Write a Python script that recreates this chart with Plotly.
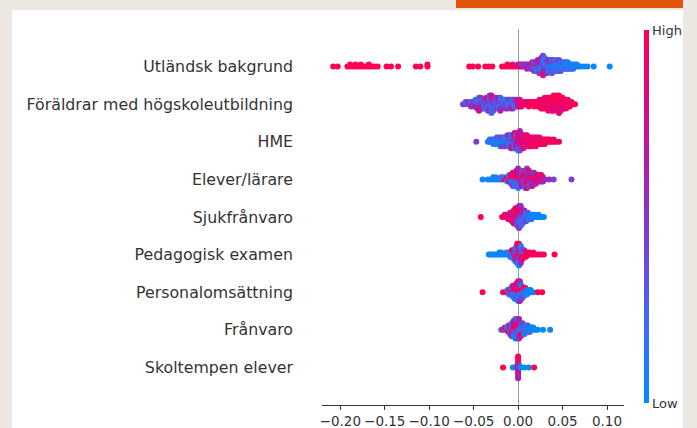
import math
import plotly.graph_objects as go

# Feature names, top row first
features = [
    "Utländsk bakgrund",
    "Föräldrar med högskoleutbildning",
    "HME",
    "Elever/lärare",
    "Sjukfrånvaro",
    "Pedagogisk examen",
    "Personalomsättning",
    "Frånvaro",
    "Skoltempen elever",
]

# SHAP values (in thousandths) grouped into piles of equal value; each character
# of the string is one sample's feature level (0 = low ... 9 = high).
utlandsk = [
    (-208, "9"), (-203, "9"), (-192, "9"), (-189, "99"), (-186, "9"), (-183, "99"),
    (-180, "9"), (-177, "99"), (-174, "9"), (-171, "9"), (-168, "99"), (-165, "9"),
    (-162, "9"), (-158, "9"), (-148, "9"), (-143, "9"), (-135, "9"), (-115, "9"),
    (-110, "9"), (-102, "99"),
    (-55, "9"), (-51, "9"), (-45, "9"), (-37, "9"), (-33, "9"), (-29, "9"),
    (-18, "9"), (-15, "9"), (-12, "99"), (-9, "9"), (-6, "98"), (-3, "9"),
    (0, "97"), (2, "86"), (4, "75"), (6, "64"), (8, "56"), (10, "546"), (12, "45"),
    (14, "365"), (16, "3547"), (18, "45236"), (20, "35142"), (22, "253416"),
    (24, "1436257"), (26, "34251637"), (28, "2413506384"), (30, "31425061"),
    (32, "2041635"), (34, "130425"), (36, "213405"), (38, "1024313"), (40, "201324"),
    (42, "102132"), (44, "21032"), (46, "103214"), (48, "01213"), (50, "2103"),
    (52, "1021"), (54, "0132"), (56, "1021"), (58, "012"), (60, "101"), (62, "012"),
    (64, "10"), (66, "01"), (68, "1"), (70, "0"), (74, "0"), (78, "1"), (85, "0"),
    (103, "0"),
]

foraldrar = [
    (-62, "4"), (-59, "43"), (-56, "35"), (-53, "426"), (-50, "354"), (-48, "4263"),
    (-46, "53426"), (-44, "4352617"), (-42, "354265"), (-40, "43526"), (-38, "24353"),
    (-36, "425316"), (-34, "3425163"), (-32, "24315263"), (-30, "143526372"),
    (-28, "3425163"), (-26, "425316"), (-24, "24135"), (-22, "342516"),
    (-20, "2413526"), (-18, "14325"), (-16, "3241"), (-14, "24315"), (-12, "42135"),
    (-10, "3124"), (-8, "21435"), (-6, "13426"), (-4, "2314"), (-2, "3425"),
    (0, "8967"), (2, "9786"), (4, "897"), (6, "98"), (8, "89"), (10, "98"),
    (12, "979"), (14, "89"), (16, "98"), (18, "989"), (20, "89"), (22, "989"),
    (24, "8998"), (26, "98979"), (28, "89989"), (30, "989879"), (32, "898799"),
    (34, "9897989"), (36, "989789"), (38, "8998798"), (40, "98987989"),
    (42, "899879"), (44, "98978989"), (46, "899879898"), (48, "9898798"),
    (50, "898979"), (52, "98987"), (54, "89899"), (56, "9898"), (58, "898"),
    (60, "98"), (62, "9"), (64, "9"),
]

hme = [
    (-47, "4"), (-34, "1"), (-32, "20"), (-30, "12"), (-28, "021"), (-26, "102"),
    (-24, "2013"), (-22, "1203"), (-20, "02131"), (-18, "21034"), (-16, "13024"),
    (-14, "31204"), (-12, "203145"), (-10, "132406"), (-8, "4213506"),
    (-6, "2531647"), (-4, "46352718"), (-2, "5374628"), (0, "675849361"),
    (2, "5879684736"), (4, "7869584"), (6, "8697958"), (8, "978689"), (10, "897968"),
    (12, "98789"), (14, "89798"), (16, "98979"), (18, "8989"), (20, "98978"),
    (22, "8998"), (24, "9898"), (26, "898"), (28, "989"), (30, "898"), (32, "98"),
    (34, "89"), (36, "98"), (38, "9"), (40, "89"), (43, "9"), (46, "8"),
]

elever_larare = [
    (-40, "0"), (-34, "1"), (-31, "0"), (-28, "10"), (-25, "01"), (-22, "1"),
    (-19, "02"), (-16, "91"), (-14, "8"), (-12, "290"), (-10, "9182"), (-8, "19283"),
    (-6, "3928174"), (-4, "4719382"), (-2, "58391726"), (0, "6948372915"),
    (2, "49583726"), (4, "8574936"), (6, "57384962"), (8, "694857392"),
    (10, "8476959384"), (12, "75968439"), (14, "6958473"), (16, "8967548"),
    (18, "796854"), (20, "68975"), (22, "9786"), (24, "6879"), (26, "9768"),
    (28, "786"), (30, "5"), (35, "5"), (40, "4"), (60, "4"),
]

sjukfranvaro = [
    (-42, "9"), (-18, "9"), (-15, "98"), (-13, "89"), (-11, "978"), (-9, "8976"),
    (-7, "97869"), (-5, "7968798"), (-3, "69785968"), (-1, "576849673"),
    (1, "46573829465"), (3, "3546271835"), (5, "2435162"), (7, "143526"),
    (9, "21304"), (11, "1203"), (13, "021"), (15, "102"), (17, "01"), (19, "10"),
    (21, "0"), (23, "01"), (26, "0"), (29, "0"),
]

pedagogisk = [
    (-33, "0"), (-31, "0"), (-29, "1"), (-27, "0"), (-25, "1"), (-23, "0"),
    (-21, "01"), (-19, "10"), (-17, "0"), (-15, "1"), (-13, "02"), (-11, "10"),
    (-9, "201"), (-7, "9128"), (-5, "29381"), (-3, "8293714"), (-1, "9384726519"),
    (1, "49583627190"), (3, "839472615"), (5, "92837"), (7, "8295"), (9, "989"),
    (11, "98"), (13, "89"), (15, "9"), (17, "98"), (20, "9"), (23, "9"), (26, "9"),
    (29, "8"), (41, "9"),
]

personal = [
    (-40, "9"), (-17, "9"), (-14, "8"), (-12, "91"), (-10, "082"), (-8, "1940"),
    (-6, "290318"), (-4, "3918270"), (-2, "48291736"), (0, "5948372619"),
    (2, "3827190465"), (4, "1927304"), (6, "02193"), (8, "1029"), (10, "201"),
    (12, "01"), (14, "10"), (17, "0"), (22, "9"), (27, "9"),
]

franvaro = [
    (-19, "1"), (-17, "9"), (-15, "19"), (-13, "81"), (-11, "9182"), (-9, "29183"),
    (-7, "8392716"), (-5, "39284716"), (-3, "4938271605"), (-1, "5948372610"),
    (1, "1029384756"), (3, "0213948"), (5, "102394"), (7, "01230"), (9, "1021"),
    (11, "0123"), (13, "102"), (15, "01"), (17, "10"), (20, "0"), (22, "0"),
    (28, "0"), (36, "0"),
]

skoltempen = [
    (-17, "9"), (-6, "0"), (-3, "1"), (-1, "52"), (0, "98796978596"), (1, "64"),
    (3, "0"), (7, "0"), (12, "0"), (18, "9"),
]

rows = [utlandsk, foraldrar, hme, elever_larare, sjukfranvaro,
        pedagogisk, personal, franvaro, skoltempen]

x_ticks = [-0.20, -0.15, -0.10, -0.05, 0.00, 0.05, 0.10]

# SHAP red-blue colormap
red_blue = [
    [0.00, "#008bfb"], [0.20, "#3a6ef3"], [0.40, "#7145dc"], [0.50, "#8a34c8"],
    [0.60, "#a424b2"], [0.80, "#d50a8a"], [1.00, "#ff0052"],
]

# Beeswarm layout: each pile stacks alternately above and below its row
STEP = 0.058
xs, ys, cs = [], [], []
n_rows = len(rows)
for i, piles in enumerate(rows):
    row_y = n_rows - 1 - i
    for val, levels in piles:
        for layer, ch in enumerate(levels):
            off = math.ceil(layer / 2) * (1 if layer % 2 else -1)
            xs.append(val / 1000.0)
            ys.append(row_y + off * STEP)
            cs.append(int(ch) / 9.0)

fig = go.Figure()
fig.add_trace(go.Scatter(
    x=xs, y=ys, mode="markers", hoverinfo="skip",
    marker=dict(
        size=6, color=cs, colorscale=red_blue, cmin=0, cmax=1,
        line=dict(width=0), opacity=1,
        colorbar=dict(
            x=1.066, xanchor="left", xref="paper", xpad=0, ypad=0,
            y=0.5, yanchor="middle", len=373, lenmode="pixels",
            thickness=5, outlinewidth=0,
            tickvals=[0, 1], ticktext=["Low", "High"], ticks="",
            tickfont=dict(family="DejaVu Sans", size=13, color="#333333"),
        ),
    ),
    showlegend=False,
))

# Page geometry (pixels) for the framing panel
W, H = 697, 428
L, R, T, B = 322, 73, 29, 23
pw, ph = W - L - R, H - T - B


def px_x(p):
    return (p - L) / pw


def px_y(p):
    return (H - B - p) / ph


fig.add_shape(type="rect", xref="paper", yref="paper", layer="below",
              x0=px_x(12), x1=px_x(683), y0=px_y(10), y1=px_y(440),
              fillcolor="white", line=dict(width=0))
fig.add_shape(type="rect", xref="paper", yref="paper", layer="below",
              x0=px_x(456), x1=px_x(683), y0=px_y(-5), y1=px_y(8),
              fillcolor="#e2550a", line=dict(width=0))

fig.update_layout(
    width=W, height=H,
    margin=dict(l=L, r=R, t=T, b=B, autoexpand=False),
    paper_bgcolor="#ebe8e1",
    plot_bgcolor="rgba(0,0,0,0)",
    font=dict(family="DejaVu Sans", color="#333333"),
    xaxis=dict(
        range=[-0.2206, 0.1191], tickvals=x_ticks, tickformat=".2f",
        showgrid=False, showline=True, linecolor="#333333", linewidth=1,
        ticks="outside", ticklen=4, tickcolor="#333333",
        tickfont=dict(size=13.5, color="#333333"), automargin=False,
        zeroline=True, zerolinecolor="#999999", zerolinewidth=1,
    ),
    yaxis=dict(
        range=[-1, n_rows], tickvals=list(range(n_rows)),
        ticktext=features[::-1], ticks="", showgrid=False, zeroline=False,
        showline=False, ticklabelstandoff=28, automargin=False,
        tickfont=dict(size=15.8, color="#333333"),
    ),
)

fig.write_html("out.html")
